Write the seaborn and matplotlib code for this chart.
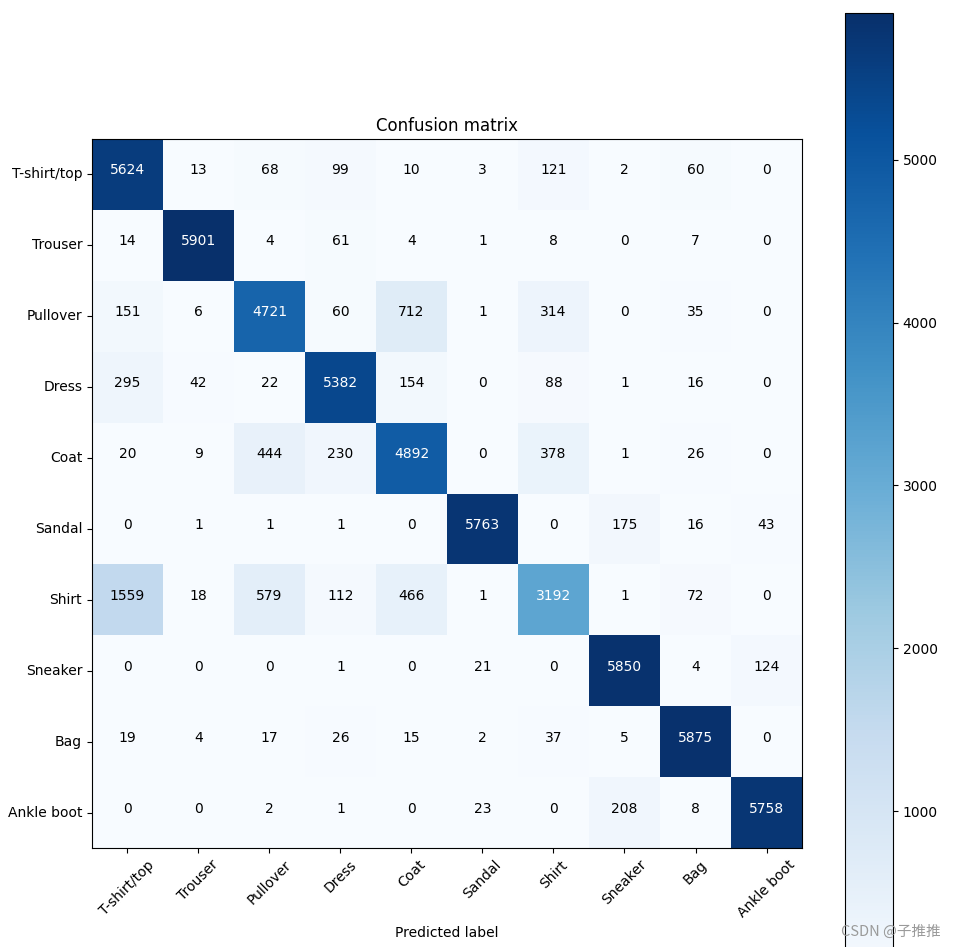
import numpy as np
import pandas as pd
import seaborn as sns
from matplotlib import pyplot as plt

class_names = ["T-shirt/top", "Trouser", "Pullover", "Dress", "Coat",
               "Sandal", "Shirt", "Sneaker", "Bag", "Ankle boot"]

row_tshirt = [5624, 13, 68, 99, 10, 3, 121, 2, 60, 0]
row_trouser = [14, 5901, 4, 61, 4, 1, 8, 0, 7, 0]
row_pullover = [151, 6, 4721, 60, 712, 1, 314, 0, 35, 0]
row_dress = [295, 42, 22, 5382, 154, 0, 88, 1, 16, 0]
row_coat = [20, 9, 444, 230, 4892, 0, 378, 1, 26, 0]
row_sandal = [0, 1, 1, 1, 0, 5763, 0, 175, 16, 43]
row_shirt = [1559, 18, 579, 112, 466, 1, 3192, 1, 72, 0]
row_sneaker = [0, 0, 0, 1, 0, 21, 0, 5850, 4, 124]
row_bag = [19, 4, 17, 26, 15, 2, 37, 5, 5875, 0]
row_ankle = [0, 0, 2, 1, 0, 23, 0, 208, 8, 5758]

cm = pd.DataFrame(
    [row_tshirt, row_trouser, row_pullover, row_dress, row_coat,
     row_sandal, row_shirt, row_sneaker, row_bag, row_ankle],
    index=class_names, columns=class_names,
)

fig = plt.figure(figsize=(9.55, 9.47), dpi=100)
ax = fig.add_axes([0.0963, 0.1045, 0.7435, 0.7487])
cax = fig.add_axes([0.8848, -0.0285, 0.0503, 1.0148])

sns.heatmap(cm, ax=ax, cbar_ax=cax, cmap="Blues", annot=True, fmt="d",
            annot_kws={"fontsize": 10}, square=False)

# white text on dark cells, text sits on the cell centre baseline
thresh = cm.values.max() / 2.0
for txt, val in zip(ax.texts, cm.values.flatten()):
    txt.set_color("white" if val > thresh else "black")
    txt.set_va("baseline")

for spine in ax.spines.values():
    spine.set_visible(True)
    spine.set_linewidth(0.8)
cbar = ax.collections[0].colorbar
cbar.outline.set_visible(True)
cbar.outline.set_linewidth(0.8)
cbar.set_ticks([1000, 2000, 3000, 4000, 5000])
cax.tick_params(labelsize=10)

ax.set_title("Confusion matrix", fontsize=12)
ax.set_xlabel("Predicted label", fontsize=10)
ax.set_ylabel("")
plt.setp(ax.get_xticklabels(), rotation=45, ha="center", fontsize=10)
plt.setp(ax.get_yticklabels(), rotation=0, fontsize=10)
ax.tick_params(length=3.5)

fig.text(0.985, 0.009, "CSDN @子推推", ha="right", va="bottom", fontsize=10.5,
         color="#9a9a9a", family=["Noto Sans CJK SC", "DejaVu Sans"])

fig.savefig("out.png", dpi=100)
